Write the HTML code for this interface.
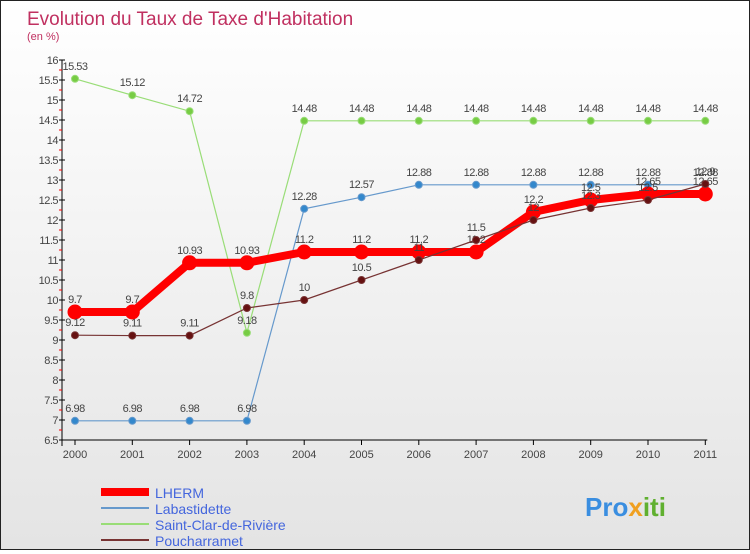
<!DOCTYPE html>
<html><head><meta charset="utf-8"><style>
body{margin:0}
#c{width:748px;height:548px;border:1px solid #222;background:linear-gradient(#fff,#e4e4e4);position:relative;font-family:"Liberation Sans",sans-serif}
</style></head><body>
<div id="c">
<svg id="s" width="748" height="548">
<text x="26" y="24" font-size="19" fill="#c03060">Evolution du Taux de Taxe d'Habitation</text>
<text x="26" y="39" font-size="11" fill="#c03060">(en %)</text>
<g id="g"></g>
<text x="584" y="515" font-size="26" font-weight="bold" fill="#3a8ee0">Pro<tspan fill="#f0a020">x</tspan><tspan fill="#60b030">iti</tspan></text>
</svg></div>
<script>
const years=["2000","2001","2002","2003","2004","2005","2006","2007","2008","2009","2010","2011"];
const lherm=[9.7,9.7,10.93,10.93,11.2,11.2,11.2,11.2,12.2,12.5,12.65,12.65];
const labastidette=[6.98,6.98,6.98,6.98,12.28,12.57,12.88,12.88,12.88,12.88,12.88,12.88];
const saintClar=[15.53,15.12,14.72,9.18,14.48,14.48,14.48,14.48,14.48,14.48,14.48,14.48];
const poucharramet=[9.12,9.11,9.11,9.8,10,10.5,11,11.5,12,12.3,12.5,12.9];
const yTicks=[6.5,7,7.5,8,8.5,9,9.5,10,10.5,11,11.5,12,12.5,13,13.5,14,14.5,15,15.5,16];
const NS="http://www.w3.org/2000/svg";
const g=document.getElementById('g');
const X=i=>74+i*57.3, Y=v=>439-(v-6.5)*40;
function el(t,a,p){const e=document.createElementNS(NS,t);for(const k in a)e.setAttribute(k,a[k]);(p||g).appendChild(e);return e;}
let ax=el('line',{x1:61,y1:Y(16),x2:61,y2:Y(6.5)+6,stroke:'#000'});


let bx=el('line',{x1:61,y1:Y(6.5),x2:X(11)+2,y2:Y(6.5),stroke:'#000'});


yTicks.forEach((v,k)=>{
 el('line',{x1:58,x2:64,y1:Y(v),y2:Y(v),stroke:'#000'});
 if(k>0) el('line',{x1:58,x2:61,y1:Y(v)+10,y2:Y(v)+10,stroke:'red'});
 const t=el('text',{x:57,y:Y(v)+4,'font-size':11,fill:'#444','text-anchor':'end','letter-spacing':'-0.5'});t.textContent=String(v);
 
 
});
years.forEach((y,i)=>{
 el('line',{x1:X(i),x2:X(i),y1:Y(6.5),y2:Y(6.5)+5,stroke:'#000'});
 const t=el('text',{x:X(i),y:Y(6.5)+18,'font-size':11,fill:'#444','text-anchor':'middle'});t.textContent=y;
 
 
});
function series(d,col,w,r,fill,name){
 const p=el('polyline',{points:d.map((v,i)=>X(i)+','+Y(v)).join(' '),fill:'none',stroke:col,'stroke-width':w});
 
 
 d.forEach((v,i)=>{
  const c=el('circle',{cx:X(i),cy:Y(v),r:r,fill:fill,stroke:col,'stroke-width':1});
  
  
  const t=el('text',{x:X(i),y:Y(v)-9,'font-size':11,fill:'#444','text-anchor':'middle','letter-spacing':'-0.5'});t.textContent=String(v);
  
  
 });
}
series(saintClar,'#99dd77',1.2,3.5,'#77cc44','saint-clar');
series(labastidette,'#6699cc',1.2,3.5,'#3388cc','labastidette');
series(lherm,'#ff0000',8,7,'#ff0000','lherm');
series(poucharramet,'#773333',1.2,3.5,'#661111','poucharramet');
const legend=[["LHERM","#ff0000",8],["Labastidette","#6699cc",2],["Saint-Clar-de-Rivière","#99dd77",2],["Poucharramet","#773333",2]];
legend.forEach((l,i)=>{
 const yy=491+i*16;
 const ln=el('line',{x1:100,x2:148,y1:yy,y2:yy,stroke:l[1],'stroke-width':l[2]});
 
 
 const t=el('text',{x:154,y:yy+6,'font-size':14,fill:'#4466dd'});t.textContent=l[0];
 
 
});
</script>
</body></html>
